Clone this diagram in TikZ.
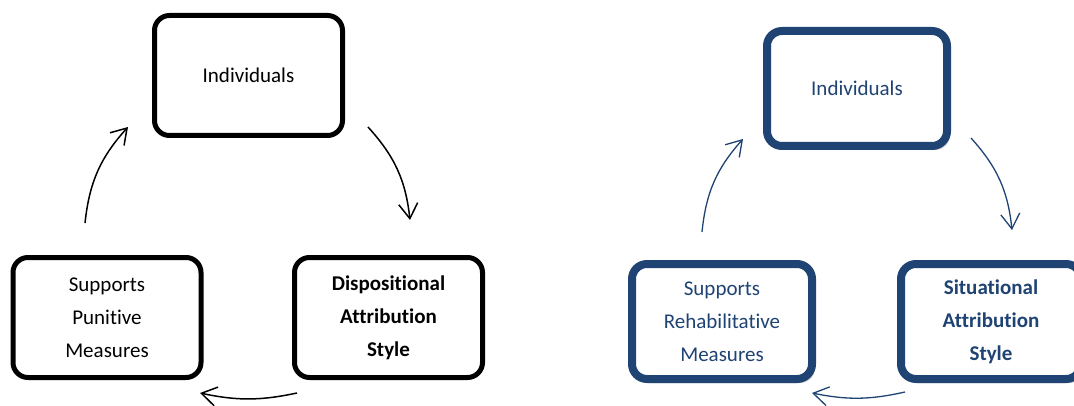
\documentclass[tikz,border=0pt]{standalone}
\usepackage{fontspec}
\setmainfont{Carlito}[Ligatures={NoCommon}]
\usetikzlibrary{arrows.meta,shadows}
\definecolor{navy}{RGB}{31,67,115}

\begin{document}
\begin{tikzpicture}[x=1pt, y=1pt,
    box/.style = {draw, rounded corners=15pt, align=center, inner sep=0pt,
        font=\fontsize{21}{33}\selectfont},
    boldbox/.style = {font=\fontsize{21}{33}\selectfont\bfseries},
    boxA/.style = {box, line width=5pt, minimum width=188pt, minimum height=120pt},
    boxB/.style = {box, draw=navy, text=navy, fill=white, line width=8pt,
        minimum width=180pt, minimum height=115pt,
        drop shadow={shadow xshift=3pt, shadow yshift=-4pt, fill=black!60, opacity=0.35}},
    cyc/.style = {-{Straight Barb[length=15pt,width=19pt]}, line width=1.5pt},
    cycB/.style = {cyc, draw=navy, line width=1.3pt}
]
    \useasboundingbox (0,0) rectangle (1074,405);

    % punitive cycle
    \node[boxA] (indA) at (248.5,329.5) {Individuals};
    \node[boxA, anchor=north] (punA) at
    ([xshift=-141.5pt, yshift=-117pt]indA.south) {Supports\\Punitive\\Measures};
    \node[boxA, boldbox, anchor=north] (disA) at
    ([xshift=140pt, yshift=-117pt]indA.south) {Dispositional\\Attribution\\Style};

    \draw[cyc] ([xshift=-22pt, yshift=32pt]punA.north) to[bend left=18]
        ([xshift=-24pt, yshift=-51.5pt]indA.west);
    \draw[cyc] ([xshift=23pt, yshift=-51.5pt]indA.east) to[bend left=18]
        ([xshift=21.5pt, yshift=35pt]disA.north);
    \draw[cyc] ([xshift=-91.5pt, yshift=-13pt]disA.south) to[bend left=12]
        ([xshift=93pt, yshift=-13pt]punA.south);

    % rehabilitative cycle
    \node[boxB] (indB) at (857,316.5) {Individuals};
    \node[boxB, anchor=north] (rehB) at
    ([xshift=-135pt, yshift=-110pt]indB.south) {Supports\\Rehabilitative\\Measures};
    \node[boxB, boldbox, anchor=north] (sitB) at
    ([xshift=134pt, yshift=-110pt]indB.south) {Situational\\Attribution\\Style};

    \draw[cycB] ([xshift=-20pt, yshift=28pt]rehB.north) to[bend left=18]
        ([xshift=-20pt, yshift=-50.5pt]indB.west);
    \draw[cycB] ([xshift=20pt, yshift=-49.5pt]indB.east) to[bend left=18]
        ([xshift=21pt, yshift=30pt]sitB.north);
    \draw[cycB] ([xshift=-86pt, yshift=-9pt]sitB.south) to[bend left=12]
        ([xshift=90pt, yshift=-10pt]rehB.south);
\end{tikzpicture}
\end{document}
